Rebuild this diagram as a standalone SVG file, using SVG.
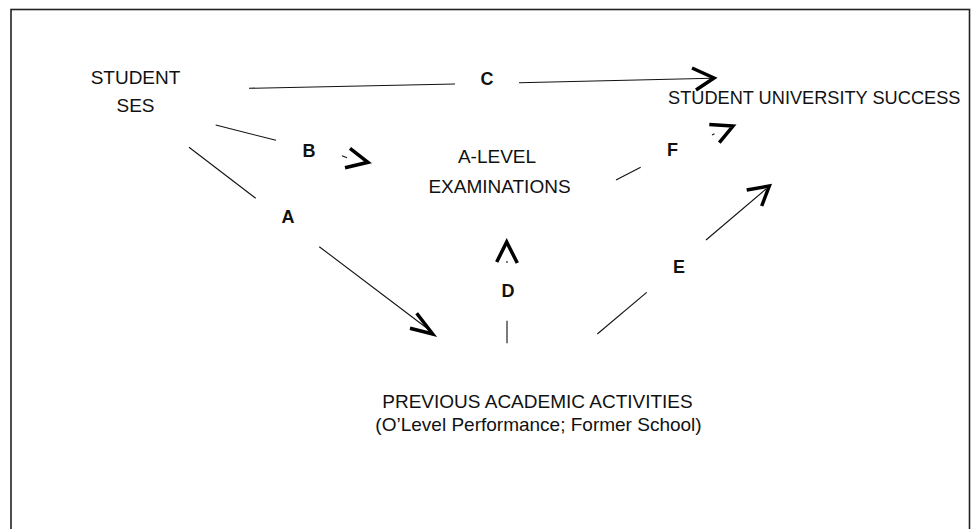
<svg xmlns="http://www.w3.org/2000/svg" width="977" height="529" viewBox="0 0 977 529">
<style>
.t{font-family:"Liberation Sans",Arial,sans-serif;font-size:19px;fill:#111;text-anchor:middle}
.l{font-family:"Liberation Sans",Arial,sans-serif;font-size:18px;font-weight:bold;fill:#111;text-anchor:middle}
.ln{stroke:#111;stroke-width:1.1;fill:none}
.ch{stroke:#000;stroke-width:3.5;fill:none;stroke-linejoin:miter;stroke-linecap:butt}
</style>
<rect x="11" y="9.5" width="958.5" height="540" fill="#fff" stroke="#222" stroke-width="1.6"/>
<g id="node-ses"><text class="t" x="135.5" y="84">STUDENT</text><text class="t" x="135.5" y="112">SES</text></g>
<g id="node-success"><text class="t" x="668" y="104" style="text-anchor:start;font-size:18.2px">STUDENT UNIVERSITY SUCCESS</text></g>
<g id="node-alevel"><text class="t" x="497" y="163">A-LEVEL</text><text class="t" x="499.5" y="193">EXAMINATIONS</text></g>
<g id="node-previous"><text class="t" x="537.5" y="408">PREVIOUS ACADEMIC ACTIVITIES</text><text class="t" x="538.5" y="431">(O’Level Performance; Former School)</text></g>
<g id="connectors">
<path class="ln" d="M249,88.3 L455,84"/>
<path class="ln" d="M519,82.7 L712,78.3"/>
<path class="ch" d="M692,68 L714,78 L696,90"/>
<text class="l" x="487" y="85">C</text>
<path class="ln" d="M215.7,125 L276,140.3"/>
<path class="ln" d="M342,155.7 L347,157.7"/>
<path class="ch" d="M350,148.3 L368,162.3 L345,167.7"/>
<text class="l" x="309" y="157">B</text>
<path class="ln" d="M189,147.3 L255.7,198.3"/>
<path class="ln" d="M319.3,246.7 L428,329"/>
<path class="ch" d="M416.7,313.3 L432.7,334 L410,328.3"/>
<text class="l" x="288" y="223">A</text>
<path class="ln" d="M507,320.7 L507,343.3"/>
<path class="ln" d="M507,261 L507,263"/>
<path class="ch" d="M496.7,262 L506.7,242 L517.3,263"/>
<text class="l" x="508" y="297">D</text>
<path class="ln" d="M597.3,334 L646.7,292.3"/>
<path class="ln" d="M706,240 L766,189"/>
<path class="ch" d="M746.7,190 L769.3,186 L761.7,206"/>
<text class="l" x="679" y="273">E</text>
<path class="ln" d="M616,180 L640.7,167.3"/>
<path class="ln" d="M712,135 L714.5,133.8"/>
<path class="ch" d="M709.3,124.5 L733,126 L719.3,142.7"/>
<text class="l" x="672.5" y="156">F</text>
</g>
</svg>
